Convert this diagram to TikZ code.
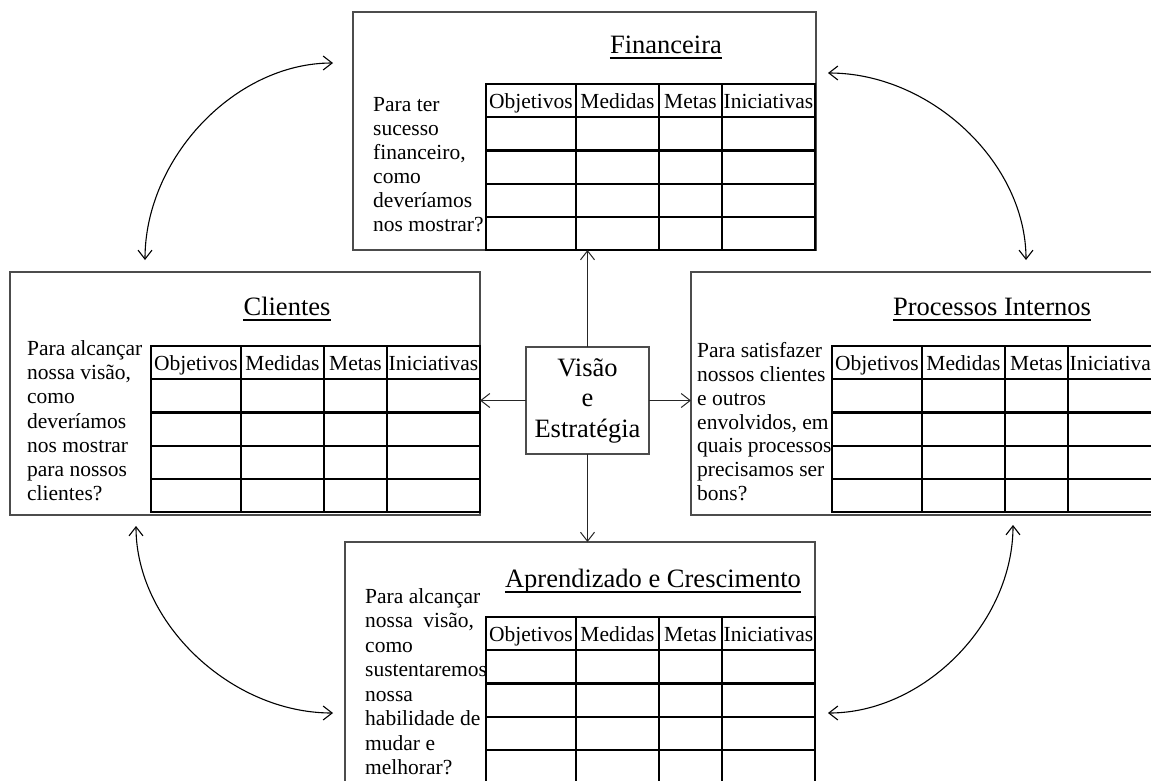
\documentclass[tikz,border=0pt]{standalone}
\usepackage{fontspec}
\setmainfont{Liberation Serif}
\usetikzlibrary{arrows.meta}

\tikzset{
  panel/.style={draw=black!70, line width=1.2pt, rectangle, inner sep=0pt, outer sep=0pt},
  tablerule/.style={draw=black, line width=2.2pt, line cap=rect},
  head/.style={inner sep=0pt, anchor=base, font=\fontsize{21.5}{24}\selectfont},
  question/.style={inner sep=0pt, anchor=north west, align=left},
  title/.style={inner sep=0pt, anchor=base, font=\fontsize{26.5}{30}\selectfont},
  titleline/.style={draw=black, line width=1.3pt},
  link/.style={draw=black!85, line width=1pt, -{Straight Barb[length=9pt,width=14pt]}},
  swing/.style={draw=black, line width=1.1pt, {Straight Barb[length=9pt,width=14pt]}-{Straight Barb[length=9pt,width=14pt]}}
}

% score table: prefix, left x, top y
\newcommand\bsctable[3]{%
  \foreach \k in {0,...,5}
    \draw[tablerule] (#2, #3+\k*33.2) -- (#2+329, #3+\k*33.2);
  \foreach \c in {0,90,173,236,329}
    \draw[tablerule] (#2+\c, #3) -- (#2+\c, #3+166);
  \node[head] (#1-obj) at (#2+45, #3+24) {Objetivos};
  \node[head] (#1-med) at (#2+131.5, #3+24) {Medidas};
  \node[head] (#1-met) at (#2+204.5, #3+24) {Metas};
  \node[head] (#1-ini) at (#2+282.5, #3+24) {Iniciativas};
}

\begin{document}
\begin{tikzpicture}[x=1pt, y=-1pt]
  \useasboundingbox (0,0) rectangle (1151,780);
  \clip (0,0) rectangle (1151,780);

  % the four perspective panels
  \node[panel, minimum width=463pt, minimum height=238pt] (fin) at (584.5,131) {};
  \node[panel, minimum width=470pt, minimum height=243pt] (cli) at (245,393.5) {};
  \node[panel, minimum width=479pt, minimum height=243pt] (pro) at (930.5,393.5) {};
  \node[panel, minimum width=470pt, minimum height=258pt] (apr) at (580,671) {};

  % vision and strategy in the middle
  \node[panel, minimum width=123pt, minimum height=107pt, align=center,
        font=\fontsize{26.5}{30.5}\selectfont] (vis) at (587.5,400.5)
        {Visão\\e\\Estratégia};

  % titles
  \node[title] (fint) at (666,53) {Financeira};
  \node[title] (clit) at (287,315) {Clientes};
  \node[title] (prot) at (992,315) {Processos Internos};
  \node[title] (aprt) at (653,587) {Aprendizado e Crescimento};
  \foreach \t in {fint,clit,prot,aprt}
    \draw[titleline] ([yshift=-5pt]\t.base west) -- ([yshift=-5pt]\t.base east);

  % tables
  \bsctable{fintab}{486}{84}
  \bsctable{clitab}{151}{346}
  \bsctable{protab}{832}{346}
  \bsctable{aprtab}{486}{617}

  % guiding questions
  \node[question, font=\fontsize{21.5}{24}\selectfont] (finq) at (373,97.5)
    {Para ter\\sucesso\\financeiro,\\como\\deveríamos\\nos mostrar?};
  \node[question, font=\fontsize{21.5}{24.2}\selectfont] (cliq) at (27,340.3)
    {Para alcançar\\nossa visão,\\como\\deveríamos\\nos mostrar\\para nossos\\clientes?};
  \node[question, font=\fontsize{21.5}{23.8}\selectfont] (proq) at (697,342.3)
    {Para satisfazer\\nossos clientes\\e outros\\envolvidos, em\\quais processos\\precisamos ser\\bons?};
  \node[question, font=\fontsize{21.5}{24.5}\selectfont] (aprq) at (365,588.3)
    {Para alcançar\\nossa\hspace{5pt} visão,\\como\\sustentaremos\\nossa\\habilidade de\\mudar e\\melhorar?};

  % links from the centre
  \draw[link] (vis.north) -- (vis.north |- fin.south);
  \draw[link] (vis.west) -- (vis.west -| cli.east);
  \draw[link] (vis.east) -- (vis.east -| pro.west);
  \draw[link] (vis.south) -- (vis.south |- apr.north);

  % curved two-way arrows between neighbouring panels
  \coordinate (a1) at (145,260);  \coordinate (a2) at (333,63);
  \coordinate (b1) at (828,73);   \coordinate (b2) at (1026,260);
  \coordinate (c1) at (136,526);  \coordinate (c2) at (333,713);
  \coordinate (d1) at (1013,525); \coordinate (d2) at (828,713);
  \draw[swing] (a1) .. controls +(0,-102) and +(-98,0) .. (a2);
  \draw[swing] (b1) .. controls +(103,0) and +(0,-97) .. (b2);
  \draw[swing] (c1) .. controls +(0,97) and +(-102,0) .. (c2);
  \draw[swing] (d1) .. controls +(0,98) and +(96,0) .. (d2);
\end{tikzpicture}
\end{document}
